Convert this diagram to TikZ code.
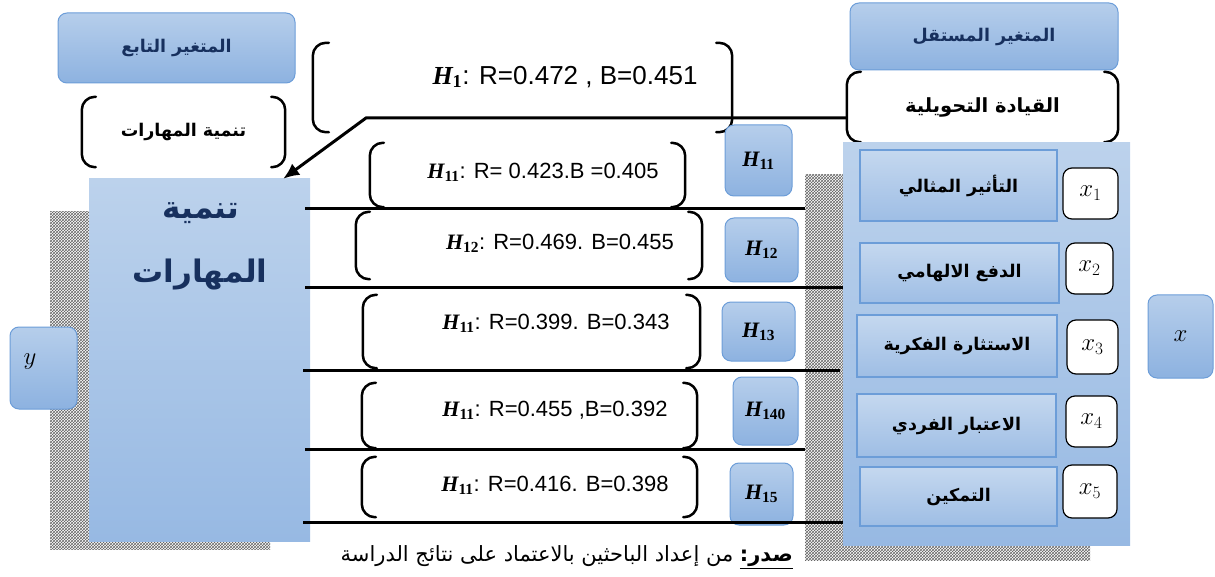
\documentclass[tikz,border=0pt]{standalone}
\usepackage{fontspec}
\setmainfont{Liberation Sans}
\newfontfamily\arabicfont[Script=Arabic]{DejaVu Sans}
\newfontfamily\hserif{Liberation Serif}
\TeXXeTstate=1
\usetikzlibrary{patterns,arrows.meta}
\definecolor{bTop}{HTML}{B6CEEB}
\definecolor{bBot}{HTML}{8DB2E0}
\definecolor{bEdge}{HTML}{6C9DD8}
\definecolor{pTop}{HTML}{BCD2EC}
\definecolor{pBot}{HTML}{97B9E3}
\definecolor{navy}{HTML}{17305E}
\newcommand\ar[1]{{\arabicfont\beginR #1\endR}}
\newcommand\Hs[1]{{\hserif\bfseries\itshape H}\textsubscript{\hserif\bfseries #1}}
\newcommand\boxat[7]{\node[#1, minimum width={#5-#3}, minimum height={#6-#4}] (#2) at ({(#3+#5)/2},{(#4+#6)/2}) {#7};}
\newcommand\brackets[2][14]{%
  \draw[brkline] ([xshift=#1]#2.north west) -- (#2.north west) -- (#2.south west) -- ([xshift=#1]#2.south west);
  \draw[brkline] ([xshift=-#1]#2.north east) -- (#2.north east) -- (#2.south east) -- ([xshift=-#1]#2.south east);}
\begin{document}
\begin{tikzpicture}[x=1pt,y=-1pt,
  gbox/.style={draw=bEdge, line width=1pt, rounded corners=9pt, top color=bTop, bottom color=bBot, inner sep=0pt},
  brknode/.style={inner sep=0pt},
  panel/.style={top color=pTop, bottom color=pBot, draw=none, inner sep=0pt},
  prect/.style={draw=bEdge, line width=1.3pt, top color=bTop!80!white, bottom color=bBot!85!white, inner sep=0pt},
  wbox/.style={draw=black, fill=white, line width=1.2pt, rounded corners=9pt, inner sep=0pt},
  hatch/.style={pattern=crosshatch, pattern color=black!60},
  brkline/.style={line width=2.5pt, rounded corners=13pt, line cap=round},
  conn/.style={line width=3pt},
  ttl/.style={font=\arabicfont\bfseries\fontsize{17.5}{20}\selectfont, text=navy},
  lbl/.style={font=\arabicfont\bfseries\fontsize{17.5}{20}\selectfont},
  lblbig/.style={font=\arabicfont\bfseries\fontsize{19.5}{22}\selectfont},
  big/.style={font=\arabicfont\bfseries\fontsize{31}{34}\selectfont, text=navy, inner sep=0pt},
  num/.style={font=\fontsize{22}{24}\selectfont, inner sep=0pt},
  numbig/.style={font=\fontsize{26}{28}\selectfont, inner sep=0pt},
  hlbl/.style={font=\fontsize{22}{24}\selectfont},
  xlbl/.style={font=\fontsize{25}{27}\selectfont},
  captxt/.style={font=\arabicfont\fontsize{21}{23}\selectfont, inner sep=0pt}
]
\useasboundingbox (0,0) rectangle (1215,577);

% shadows
\fill[hatch] (805,175) rectangle (843,560);
\fill[hatch] (843,545) rectangle (1090,560);
\fill[hatch] (50,212) rectangle (89,549);
\fill[hatch] (89,541) rectangle (270,549);

% top left
\boxat{gbox, ttl}{dep}{58}{13}{295}{83}{\ar{المتغير التابع}}
\boxat{brknode, lbl}{depv}{82}{97}{285}{167}{\ar{تنمية المهارات}}
\brackets{depv}

% top right
\boxat{gbox, ttl}{ind}{850}{3}{1118}{70}{\ar{المتغير المستقل}}
\boxat{brknode, lblbig}{indv}{847}{72}{1118}{142}{\ar{القيادة التحويلية}}
\brackets{indv}

% right panel
\boxat{panel}{P}{843}{143}{1130}{545}{}
\boxat{prect, lbl}{d1}{860}{150}{1057}{221}{\ar{التأثير المثالي}}
\boxat{prect, lbl}{d2}{860}{243}{1059}{303}{\ar{الدفع الالهامي}}
\boxat{prect, lbl}{d3}{857}{315}{1057}{377}{\ar{الاستثارة الفكرية}}
\boxat{prect, lbl}{d4}{857}{394}{1056}{457}{\ar{الاعتبار الفردي}}
\boxat{prect, lbl}{d5}{860}{467}{1057}{526}{\ar{التمكين}}
\boxat{wbox, xlbl}{w1}{1063}{168}{1118}{219}{$x_1$}
\boxat{wbox, xlbl}{w2}{1066}{243}{1113}{294}{$x_2$}
\boxat{wbox, xlbl}{w3}{1067}{320}{1118}{374}{$x_3$}
\boxat{wbox, xlbl}{w4}{1066}{396}{1117}{447}{$x_4$}
\boxat{wbox, xlbl}{w5}{1063}{465}{1117}{518}{$x_5$}
\boxat{gbox, xlbl}{X}{1148}{295}{1213}{378}{$x$}

% left panel
\boxat{panel}{L}{89}{179}{310}{541}{}
\node[big] (Lt1) at (201,213) {\ar{تنمية}};
\node[big] (Lt2) at (200,275) {\ar{المهارات}};
\boxat{gbox}{Y}{10}{327}{77}{409}{}
\node[xlbl] (Yt) at (30,362) {$y$};

% H1
\boxat{brknode}{h1}{313}{43}{732}{132}{}
\brackets[16]{h1}
\node[numbig] (h1t) at (565,77) {\Hs{1}: R=0.472 , B=0.451};

% rows
\boxat{brknode}{b1}{370}{143}{685}{207}{}
\brackets{b1}
\node[num] (t1) at (543,172) {\Hs{11}: R= 0.423.B =0.405};
\boxat{gbox, hlbl}{hb1}{725}{125}{792}{196}{\Hs{11}}

\boxat{brknode}{b2}{356}{212}{702}{279}{}
\brackets{b2}
\node[num] (t2) at (560,243) {\Hs{12}: R=0.469. B=0.455};
\boxat{gbox, hlbl}{hb2}{725}{218}{798}{282}{\Hs{12}}

\boxat{brknode}{b3}{363}{295}{700}{368}{}
\brackets{b3}
\node[num] (t3) at (556,323) {\Hs{11}: R=0.399. B=0.343};
\boxat{gbox, hlbl}{hb3}{722}{302}{795}{361}{\Hs{13}}

\boxat{brknode}{b4}{362}{383}{697}{448}{}
\brackets{b4}
\node[num] (t4) at (555,410) {\Hs{11}: R=0.455 ,B=0.392};
\boxat{gbox, hlbl}{hb4}{733}{377}{798}{445}{\Hs{140}}

\boxat{brknode}{b5}{362}{457}{697}{517}{}
\brackets{b5}
\node[num] (t5) at (555,485) {\Hs{11}: R=0.416. B=0.398};
\boxat{gbox, hlbl}{hb5}{730}{463}{793}{525}{\Hs{15}}

% connectors
\coordinate (r1) at (805,209);
\coordinate (r2) at (843,288);
\coordinate (r3) at (840,370);
\coordinate (r4) at (805,449);
\coordinate (r5) at (843,522);
\draw[conn] ([xshift=-5]L.east |- r1) -- (r1);
\draw[conn] ([xshift=-5]L.east |- r2) -- (r2);
\draw[conn] ([xshift=-7]L.east |- r3) -- (r3);
\draw[conn] ([xshift=-5]L.east |- r4) -- (r4);
\draw[conn] ([xshift=-7]L.east |- r5) -- (r5);

\coordinate (bend) at (366,118);
\draw[conn, -{Latex[length=16pt,width=14pt]}] (indv.west |- bend) -- (bend) -- ([xshift=-27]L.north east);

% caption
\node[captxt, anchor=east] (capn) at (793,557) {\ar{\underline{\bfseries صدر:} من إعداد الباحثين بالاعتماد على نتائج الدراسة}};
\end{tikzpicture}
\end{document}
